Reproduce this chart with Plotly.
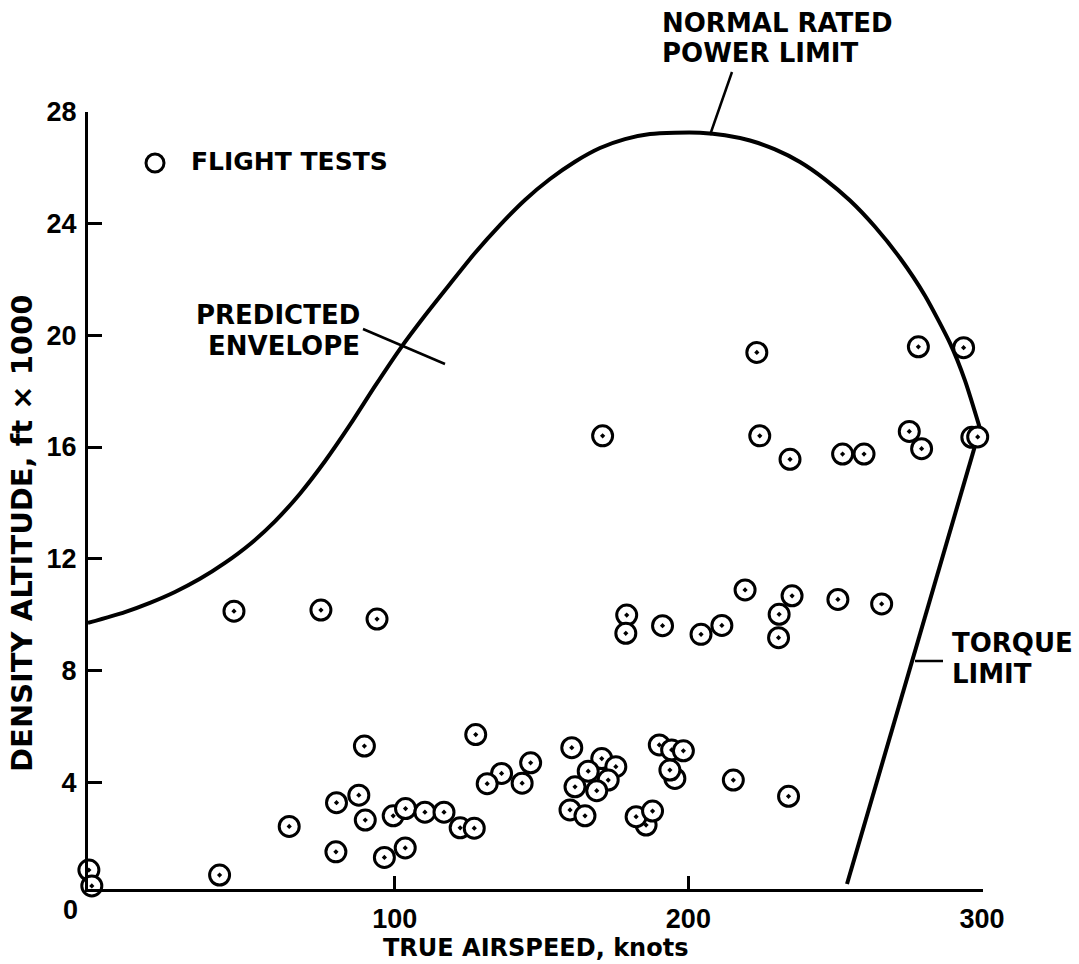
import plotly.graph_objects as go

# Flight test points: true airspeed (knots) vs density altitude (ft x 1000)
airspeed = [
    -4.1, -3.1, 40.4,
    45.3, 74.9, 94.0,
    89.7, 127.6, 146.3, 136.4, 131.5, 143.4, 87.8, 80.2, 90.0, 64.1,
    99.5, 103.7, 110.3, 116.8, 122.3, 127.1, 80.0, 96.5, 103.6,
    160.3, 170.5, 175.3, 172.7, 165.9, 161.4, 168.8, 159.7, 164.8,
    190.1, 194.3, 198.3, 195.4, 193.7, 185.6, 182.2, 187.8, 215.3, 234.1,
    170.8, 224.3, 234.6, 252.5, 259.8, 275.2, 279.4, 296.5, 298.5,
    219.3, 235.3, 250.9, 265.8, 179.0, 178.7, 191.2, 204.3, 211.4, 230.9, 230.7,
    223.3, 278.3, 293.7,
]
altitude = [
    0.85, 0.28, 0.67,
    10.12, 10.16, 9.84,
    5.29, 5.70, 4.69, 4.31, 3.94, 3.96, 3.53, 3.26, 2.64, 2.41,
    2.79, 3.05, 2.92, 2.92, 2.36, 2.35, 1.50, 1.30, 1.64,
    5.23, 4.84, 4.55, 4.07, 4.39, 3.83, 3.69, 3.00, 2.79,
    5.33, 5.15, 5.12, 4.13, 4.43, 2.46, 2.76, 2.96, 4.07, 3.49,
    16.40, 16.40, 15.56, 15.75, 15.75, 16.56, 15.94, 16.35, 16.36,
    10.88, 10.67, 10.54, 10.38, 9.98, 9.33, 9.60, 9.29, 9.61, 10.01, 9.17,
    19.39, 19.59, 19.56,
]

# Predicted envelope (normal rated power limit)
envelope_speed = [-4.43, 8.17, 16.68, 25.20, 33.71, 42.22, 50.73, 59.24, 67.76,
                  76.27, 84.78, 93.29, 101.80, 110.32, 118.83, 127.34, 135.85,
                  144.36, 152.88, 161.39, 169.90, 178.41, 186.93, 195.44, 203.95,
                  212.46, 220.97, 229.49, 238.00, 246.51, 255.02, 263.53, 272.04,
                  280.56, 289.07, 294.18, 299.29]
envelope_alt = [9.70, 10.09, 10.42, 10.81, 11.28, 11.85, 12.52, 13.34, 14.33,
                15.49, 16.79, 18.18, 19.51, 20.71, 21.84, 22.95, 23.95,
                24.85, 25.60, 26.22, 26.71, 27.03, 27.21, 27.26, 27.26,
                27.17, 26.98, 26.66, 26.21, 25.59, 24.83, 23.89, 22.77,
                21.42, 19.72, 18.38, 16.66]

# Torque limit
torque_speed = [299.29, 254.0]
torque_alt = [16.66, 0.35]

x_ticks = [100, 200, 300]
y_ticks = [4, 8, 12, 16, 20, 24, 28]

W, H = 1079, 964
ML, MR, MT, MB = 88, 96, 112, 75
FONT = "DejaVu Sans"
NUM_FONT = "Liberation Sans"


def fx(p):
    return (p - ML) / (W - ML - MR)


def fy(p):
    return (H - MB - p) / (H - MT - MB)


fig = go.Figure()

fig.add_trace(go.Scatter(
    x=envelope_speed, y=envelope_alt, mode="lines",
    line=dict(color="black", width=4, shape="spline", smoothing=0.6),
    hoverinfo="skip", showlegend=False,
))
fig.add_trace(go.Scatter(
    x=torque_speed, y=torque_alt, mode="lines",
    line=dict(color="black", width=4),
    hoverinfo="skip", showlegend=False,
))
fig.add_trace(go.Scatter(
    x=airspeed, y=altitude, mode="markers",
    marker=dict(symbol="circle-dot", size=20, color="white",
                line=dict(color="black", width=3)),
    cliponaxis=False, showlegend=False, name="FLIGHT TESTS",
))

annotations = []


def label(text, xp, yp, anchor="left", size=26, angle=0, family=FONT):
    annotations.append(dict(
        text=text, x=fx(xp), y=fy(yp), xref="paper", yref="paper",
        xanchor=anchor, yanchor="middle", showarrow=False, textangle=angle,
        font=dict(family=family, size=size, color="black", weight="bold"),
    ))


label("0", 70, 910, anchor="center", size=27, family=NUM_FONT)
label("TRUE AIRSPEED, knots", 535, 948, anchor="center", size=24)
label("DENSITY ALTITUDE, ft \u00d7 1000", 22, 534, anchor="center", size=29, angle=-90)
label("FLIGHT TESTS", 189, 161, size=25)
label("NORMAL RATED", 660, 23)
label("POWER LIMIT", 660, 53)
label("PREDICTED", 362, 315, anchor="right")
label("ENVELOPE", 362, 346, anchor="right")
label("TORQUE", 950, 643)
label("LIMIT", 950, 674)

shapes = [
    # legend symbol
    dict(type="circle", xref="paper", yref="paper",
         xsizemode="pixel", ysizemode="pixel",
         xanchor=fx(155), yanchor=fy(163), x0=-9, x1=9, y0=-9, y1=9,
         line=dict(color="black", width=3)),
    # leader lines
    dict(type="line", xref="paper", yref="paper",
         x0=fx(732), y0=fy(72), x1=fx(710), y1=fy(135),
         line=dict(color="black", width=2.5)),
    dict(type="line", xref="paper", yref="paper",
         x0=fx(363), y0=fy(329), x1=fx(445), y1=fy(364),
         line=dict(color="black", width=2.5)),
    dict(type="line", xref="paper", yref="paper",
         x0=fx(915), y0=fy(661), x1=fx(943), y1=fy(661),
         line=dict(color="black", width=2.5)),
]

axis_common = dict(
    showgrid=False, zeroline=False, showline=True, linecolor="black",
    linewidth=3, ticks="inside", tickwidth=3, tickcolor="black",
    tickfont=dict(family=NUM_FONT, size=27, color="black", weight="bold"),
)

fig.update_layout(
    width=W, height=H,
    margin=dict(l=ML, r=MR, t=MT, b=MB),
    paper_bgcolor="white", plot_bgcolor="white",
    font=dict(family=FONT, color="black", weight="bold"),
    xaxis=dict(range=[-4.4, 300.3], tickvals=x_ticks, ticklen=13,
               ticklabelstandoff=4, **axis_common),
    yaxis=dict(range=[0.17, 28.0], tickvals=y_ticks, ticklen=14,
               ticklabelstandoff=3, **axis_common),
    annotations=annotations,
    shapes=shapes,
    showlegend=False,
)

fig.write_html("out.html")
